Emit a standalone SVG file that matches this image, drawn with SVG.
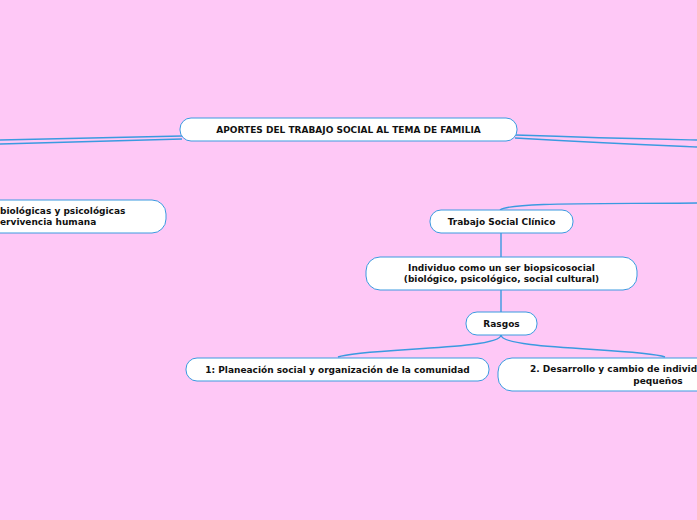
<svg xmlns="http://www.w3.org/2000/svg" width="697" height="520" viewBox="0 0 697 520">
<style>
.n{fill:#fff;stroke:#3a9ae0;stroke-width:1}
.t{font-family:"DejaVu Sans",Verdana,sans-serif;font-weight:bold;font-size:9px;fill:#111}
.c{fill:none;stroke:#3a9ae0;stroke-width:1.4}
</style>
<rect width="697" height="520" fill="#fec8f6"/>
<g id="connectors">
<path class="c" d="M182,136 C100,138 40,139 0,140"/>
<path class="c" d="M182,139 C100,141 40,143 0,144"/>
<path class="c" d="M515,135 C600,138 650,139 697,140"/>
<path class="c" d="M515,138 C600,143 650,145 697,147"/>
<path class="c" d="M500,210 C510,202 600,204 697,203"/>
<path class="c" d="M501,233 V257 M501,290 V312"/>
<path class="c" d="M501,335 C501,350 360,348 338,357"/>
<path class="c" d="M501,335 C501,350 640,348 665,357"/>
</g>
<g id="title"><rect class="n" x="180" y="118" width="337" height="23" rx="11"/><text class="t" x="348.5" y="133" text-anchor="middle">APORTES DEL TRABAJO SOCIAL AL TEMA DE FAMILIA</text></g>
<g id="left"><rect class="n" x="-20" y="200" width="186" height="33" rx="14"/><text class="t" x="0" y="214">biológicas y psicológicas</text><text class="t" x="0" y="225">ervivencia humana</text></g>
<g id="clinico"><rect class="n" x="430" y="210" width="143" height="23" rx="11"/><text class="t" x="501.5" y="225" text-anchor="middle">Trabajo Social Clínico</text></g>
<g id="individuo"><rect class="n" x="366" y="257" width="271" height="33" rx="14"/><text class="t" x="501.5" y="271" text-anchor="middle">Individuo como un ser biopsicosocial</text><text class="t" x="501.5" y="282" text-anchor="middle">(biológico, psicológico, social cultural)</text></g>
<g id="rasgos"><rect class="n" x="466" y="312" width="71" height="23" rx="11"/><text class="t" x="501.5" y="327" text-anchor="middle">Rasgos</text></g>
<g id="r1"><rect class="n" x="186" y="358" width="303" height="23" rx="11"/><text class="t" x="337.5" y="373" text-anchor="middle">1: Planeación social y organización de la comunidad</text></g>
<g id="r2"><rect class="n" x="498" y="358" width="230" height="33" rx="14"/><text class="t" x="530" y="372">2. Desarrollo y cambio de individu</text><text class="t" x="658" y="384" text-anchor="middle">pequeños</text></g>
</svg>
